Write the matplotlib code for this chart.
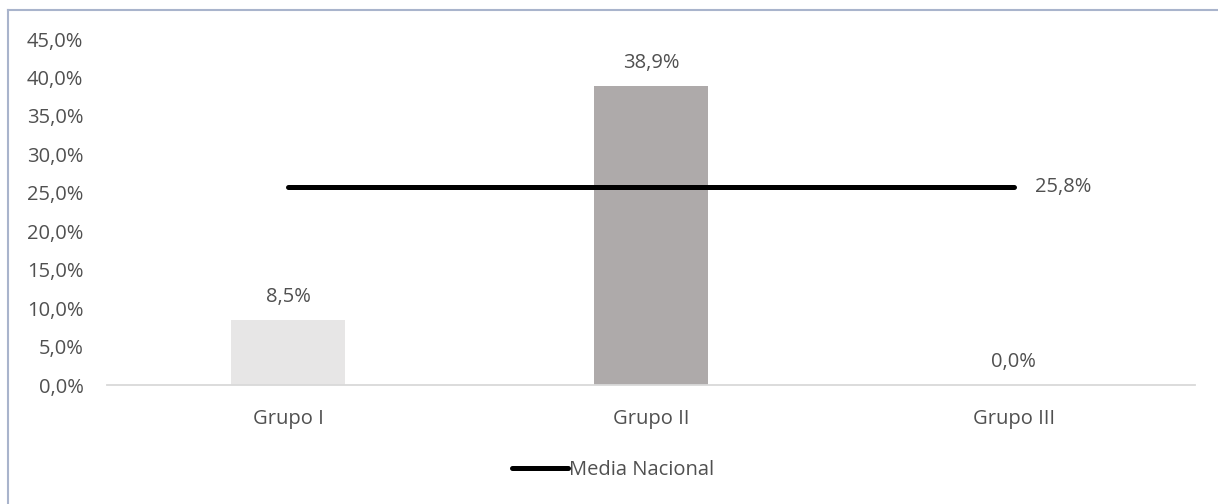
import matplotlib.pyplot as plt
from matplotlib.lines import Line2D

# Data
grupos = ['Grupo I', 'Grupo II', 'Grupo III']
valores = [8.5, 38.9, 0.0]
media_nacional = 25.8
colores = ['#e7e6e6', '#aeaaaa', '#7f7f7f']

texto = '#505050'
plt.rcParams['font.family'] = ['Open Sans', 'DejaVu Sans']
plt.rcParams['font.size'] = 14.5

W, H = 1218, 504
fig = plt.figure(figsize=(W / 100, H / 100), dpi=100)
ax = fig.add_axes([107 / W, 1 - 385 / H, (1195 - 107) / W, (385 - 39) / H])

x = range(len(grupos))
bars = ax.bar(x, valores, width=0.315, color=colores, zorder=2)

# value labels above each bar
for xi, v in zip(x, valores):
    ax.annotate(f'{v:.1f}%'.replace('.', ','), (xi, v), xytext=(0, 23),
                textcoords='offset pixels', ha='center', va='center', color=texto)

# national average line
linea, = ax.plot([0, len(grupos) - 1], [media_nacional, media_nacional],
                 color='black', lw=3.6, solid_capstyle='round', zorder=3,
                 label='Media Nacional')
ax.annotate(f'{media_nacional:.1f}%'.replace('.', ','), (len(grupos) - 1, media_nacional),
            xytext=(21, 0), textcoords='offset pixels', ha='left', va='center', color=texto)

ax.set_xlim(-0.5, 2.5)
ax.set_ylim(0, 45)
ax.set_yticks([i * 5 for i in range(10)])
ax.set_yticklabels([f'{i * 5:.1f}%'.replace('.', ',') for i in range(10)])
ax.set_xticks(list(x))
ax.set_xticklabels(grupos)
ax.tick_params(length=0, colors=texto)
ax.tick_params(axis='y', pad=17)
ax.tick_params(axis='x', pad=17.5)
for s in ['top', 'right', 'left']:
    ax.spines[s].set_visible(False)
ax.spines['bottom'].set_color('#d9d9d9')
ax.spines['bottom'].set_linewidth(1.3)

fig.legend(handles=[linea], loc='center', bbox_to_anchor=(613 / W, 1 - 470 / H),
           frameon=False, handlelength=2.8, handletextpad=0.05, labelcolor=texto)

# chart frame
borde = '#a9b4cc'
fig.add_artist(Line2D([8 / W, 8 / W], [0, 1 - 10 / H], color=borde, lw=1.5))
fig.add_artist(Line2D([8 / W, 1], [1 - 10 / H, 1 - 10 / H], color=borde, lw=1.5))

fig.savefig('out.png', dpi=100)
